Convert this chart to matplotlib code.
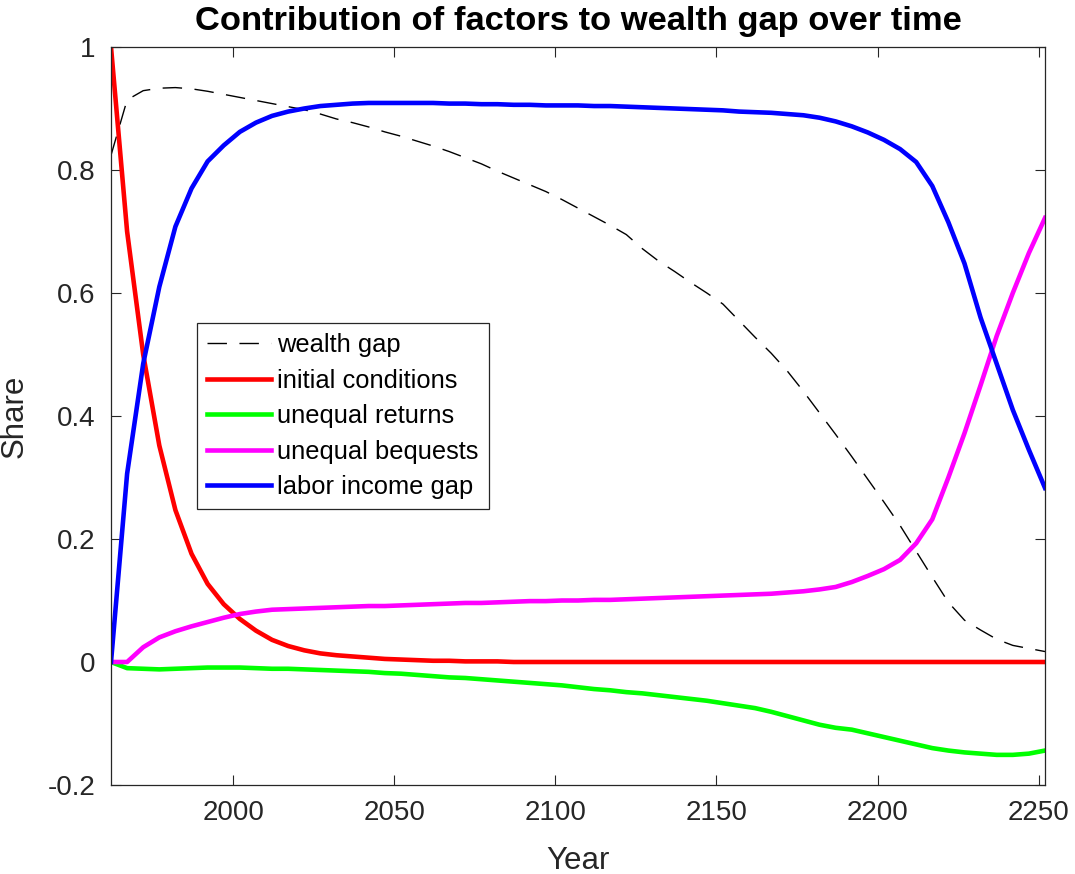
import numpy as np
import matplotlib
matplotlib.use("Agg")
import matplotlib.pyplot as plt

plt.rcParams['font.family'] = ['Liberation Sans', 'DejaVu Sans']

years = list(range(1962, 2253, 5))

wealth_gap = [0.824, 0.914, 0.929, 0.933, 0.934, 0.932, 0.928, 0.923, 0.918, 0.913,
              0.908, 0.903, 0.898, 0.891, 0.883, 0.877, 0.870, 0.862, 0.855, 0.847,
              0.839, 0.830, 0.820, 0.810, 0.798, 0.787, 0.776, 0.765, 0.752, 0.738,
              0.724, 0.710, 0.695, 0.672, 0.652, 0.635, 0.617, 0.600, 0.582, 0.555,
              0.528, 0.502, 0.473, 0.440, 0.405, 0.370, 0.334, 0.297, 0.260, 0.222,
              0.180, 0.138, 0.097, 0.068, 0.052, 0.037, 0.027, 0.022, 0.017]

initial_conditions = [1.0, 0.70, 0.50, 0.352, 0.247, 0.176, 0.127, 0.094, 0.070, 0.051,
                      0.036, 0.026, 0.019, 0.014, 0.011, 0.009, 0.007, 0.005, 0.004, 0.003,
                      0.002, 0.002, 0.001, 0.001, 0.001, 0.0, 0.0, 0.0, 0.0, 0.0,
                      0.0, 0.0, 0.0, 0.0, 0.0, 0.0, 0.0, 0.0, 0.0, 0.0,
                      0.0, 0.0, 0.0, 0.0, 0.0, 0.0, 0.0, 0.0, 0.0, 0.0,
                      0.0, 0.0, 0.0, 0.0, 0.0, 0.0, 0.0, 0.0, 0.0]

unequal_returns = [0.0, -0.010, -0.011, -0.012, -0.011, -0.010, -0.009, -0.009, -0.009, -0.010,
                   -0.011, -0.011, -0.012, -0.013, -0.014, -0.015, -0.016, -0.018, -0.019, -0.021,
                   -0.023, -0.025, -0.026, -0.028, -0.030, -0.032, -0.034, -0.036, -0.038, -0.041,
                   -0.044, -0.046, -0.049, -0.051, -0.054, -0.057, -0.060, -0.063, -0.067, -0.071,
                   -0.075, -0.081, -0.088, -0.095, -0.102, -0.107, -0.110, -0.116, -0.122, -0.128,
                   -0.134, -0.140, -0.144, -0.147, -0.149, -0.151, -0.151, -0.149, -0.144]

unequal_bequests = [0.0, 0.0, 0.024, 0.040, 0.050, 0.058, 0.065, 0.072, 0.078, 0.082,
                    0.085, 0.086, 0.087, 0.088, 0.089, 0.090, 0.091, 0.091, 0.092, 0.093,
                    0.094, 0.095, 0.096, 0.096, 0.097, 0.098, 0.099, 0.099, 0.100, 0.100,
                    0.101, 0.101, 0.102, 0.103, 0.104, 0.105, 0.106, 0.107, 0.108, 0.109,
                    0.110, 0.111, 0.113, 0.115, 0.118, 0.122, 0.130, 0.140, 0.151, 0.166,
                    0.193, 0.232, 0.300, 0.372, 0.450, 0.530, 0.600, 0.665, 0.722]

labor_income_gap = [0.0, 0.306, 0.485, 0.610, 0.708, 0.770, 0.814, 0.840, 0.862, 0.877,
                    0.888, 0.895, 0.900, 0.904, 0.906, 0.908, 0.909, 0.909, 0.909, 0.909,
                    0.909, 0.908, 0.908, 0.907, 0.907, 0.906, 0.906, 0.905, 0.905, 0.905,
                    0.904, 0.904, 0.903, 0.902, 0.901, 0.900, 0.899, 0.898, 0.897, 0.895,
                    0.894, 0.893, 0.891, 0.889, 0.885, 0.879, 0.871, 0.861, 0.849, 0.834,
                    0.813, 0.774, 0.715, 0.648, 0.560, 0.485, 0.410, 0.345, 0.283]

series_labels = ['wealth gap', 'initial conditions', 'unequal returns',
                 'unequal bequests', 'labor income gap']
x_ticks = [2000, 2050, 2100, 2150, 2200, 2250]
y_ticks = [-0.2, 0, 0.2, 0.4, 0.6, 0.8, 1]
y_tick_labels = ['-0.2', '0', '0.2', '0.4', '0.6', '0.8', '1']

W, H = 1075, 874
fig = plt.figure(figsize=(W / 100, H / 100), dpi=100)
ax = fig.add_axes([111 / W, (H - 785) / H, (1045 - 111) / W, (785 - 47) / H])

axcol = '#262626'
ax.plot(years, wealth_gap, color='black', lw=1.0, dashes=(14, 9), label=series_labels[0])
ax.plot(years, initial_conditions, color='#ff0000', lw=3.3, label=series_labels[1])
ax.plot(years, unequal_returns, color='#00ff00', lw=3.3, label=series_labels[2])
ax.plot(years, unequal_bequests, color='#ff00ff', lw=3.3, label=series_labels[3])
ax.plot(years, labor_income_gap, color='#0000ff', lw=3.3, label=series_labels[4])

ax.set_xlim(1962, 2252)
ax.set_ylim(-0.2, 1.0)
ax.set_xticks(x_ticks)
ax.set_yticks(y_ticks)
ax.set_yticklabels(y_tick_labels)
ax.tick_params(direction='in', length=7, width=0.8, colors=axcol, labelsize=20,
               top=True, right=True, pad=11)
for s in ax.spines.values():
    s.set_color(axcol)
    s.set_linewidth(0.9)

ax.set_xlabel('Year', fontsize=22.5, color=axcol, labelpad=14)
ax.set_ylabel('Share', fontsize=22.5, color=axcol, labelpad=13)
ax.set_title('Contribution of factors to wealth gap over time', fontsize=24.8,
             fontweight='bold', color='black', pad=12)

leg = ax.legend(loc='upper left', bbox_to_anchor=(0.092, 0.626), borderaxespad=0,
                fontsize=18.4, handlelength=2.5, handletextpad=0.25, borderpad=0.4,
                labelspacing=0.45, fancybox=False, framealpha=1, edgecolor=axcol)
leg.get_frame().set_linewidth(0.9)

fig.savefig('out.png', dpi=100)
